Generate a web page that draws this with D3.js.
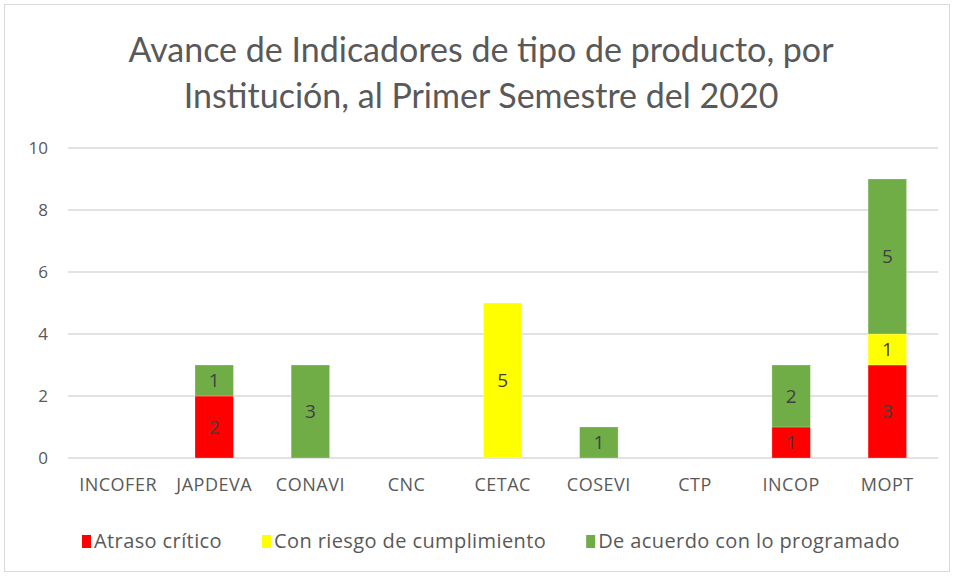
<!DOCTYPE html>
<html>
<head>
<meta charset="utf-8">
<script src="https://cdn.jsdelivr.net/npm/d3@7"></script>
<style>
  body { margin: 0; background: #ffffff; }
  svg { font-family: "Open Sans", Lato, sans-serif; }
</style>
</head>
<body>
<svg id="chart" width="954" height="576"></svg>
<script>
const categories = ["INCOFER", "JAPDEVA", "CONAVI", "CNC", "CETAC", "COSEVI", "CTP", "INCOP", "MOPT"];
const series = ["Atraso crítico", "Con riesgo de cumplimiento", "De acuerdo con lo programado"];
const atraso = [0, 2, 0, 0, 0, 0, 0, 1, 3];
const riesgo = [0, 0, 0, 0, 5, 0, 0, 0, 1];
const acuerdo = [0, 1, 3, 0, 0, 1, 0, 2, 5];
const yTicks = [0, 2, 4, 6, 8, 10];
const titleLines = ["Avance de Indicadores de tipo de producto, por", "Institución, al Primer Semestre del 2020"];

const svg = d3.select("#chart"),
    width = +svg.attr("width"),
    height = +svg.attr("height"),
    margin = { top: 148, right: 16, bottom: 118, left: 70 },
    chartWidth = width - margin.left - margin.right,
    chartHeight = height - margin.top - margin.bottom;

// marco
svg.append("rect")
    .attr("x", 4.5).attr("y", 4.5)
    .attr("width", width - 9).attr("height", height - 9)
    .attr("fill", "#fff")
    .attr("stroke", "#d9d9d9");

svg.append("g")
    .selectAll("text")
    .data(titleLines)
    .join("text")
    .attr("x", width / 2 + 4)
    .attr("y", (d, i) => 62 + i * 46)
    .attr("text-anchor", "middle")
    .style("font-family", "Lato, sans-serif")
    .style("fill", "#595959")
    .style("font-size", "34px")
    .text(d => d);

const chart = svg.append("g")
    .attr("transform", `translate(${margin.left},${margin.top})`);

const x = d3.scaleBand()
    .domain(categories)
    .range([0, chartWidth * 0.997])
    .paddingInner(0.6)
    .paddingOuter(0.3);

const y = d3.scaleLinear()
    .domain([0, 10])
    .range([chartHeight, 0]);

const color = d3.scaleOrdinal()
    .domain(series)
    .range(["#ff0000", "#ffff00", "#70ad47"]);

// grilla
chart.append("g")
    .selectAll("line")
    .data(yTicks)
    .join("line")
    .attr("x1", -2)
    .attr("x2", chartWidth)
    .attr("y1", d => y(d))
    .attr("y2", d => y(d))
    .attr("stroke", "#d9d9d9")
    .attr("stroke-width", 1.3);

const yAxis = chart.append("g")
    .call(d3.axisLeft(y).tickValues(yTicks).tickSize(0).tickPadding(22));
yAxis.select(".domain").remove();
yAxis.selectAll("text")
    .style("font-family", "'Open Sans', sans-serif")
    .style("font-size", "17px")
    .style("fill", "#595959");

const xAxis = chart.append("g")
    .attr("transform", `translate(0,${chartHeight})`)
    .call(d3.axisBottom(x).tickSize(0).tickPadding(20));
xAxis.select(".domain").remove();
xAxis.selectAll("text")
    .style("font-family", "'Open Sans', sans-serif")
    .style("font-size", "18px")
    .style("letter-spacing", "0.5px")
    .style("fill", "#595959");

const table = categories.map((c, i) => ({
    cat: c,
    [series[0]]: atraso[i],
    [series[1]]: riesgo[i],
    [series[2]]: acuerdo[i]
}));

const stacked = d3.stack().keys(series)(table);

const layers = chart.selectAll(".layer")
    .data(stacked)
    .join("g")
    .attr("class", "layer")
    .attr("fill", d => color(d.key));

layers.selectAll("rect")
    .data(d => d.filter(p => p[1] - p[0] > 0))
    .join("rect")
    .attr("x", d => x(d.data.cat))
    .attr("y", d => y(d[1]))
    .attr("width", x.bandwidth())
    .attr("height", d => y(d[0]) - y(d[1]))
    .attr("stroke", "#ffffff")
    .attr("stroke-opacity", 0.3)
    .attr("stroke-width", 0.8);

layers.selectAll("text")
    .data(d => d.filter(p => p[1] - p[0] > 0))
    .join("text")
    .attr("x", d => x(d.data.cat) + x.bandwidth() / 2)
    .attr("y", d => (y(d[0]) + y(d[1])) / 2)
    .attr("dy", "0.36em")
    .attr("text-anchor", "middle")
    .style("fill", "#404040")
    .style("font-size", "19px")
    .text(d => d[1] - d[0]);

// leyenda
const legend = svg.append("g")
    .attr("transform", `translate(0, ${541})`);

const items = legend.selectAll("g")
    .data(series)
    .join("g");

items.append("rect")
    .attr("y", -6)
    .attr("width", 9)
    .attr("height", 13)
    .attr("fill", d => color(d));

items.append("text")
    .attr("x", 12)
    .attr("dy", "0.36em")
    .style("fill", "#595959")
    .style("font-size", "20px")
    .style("letter-spacing", "0.4px")
    .text(d => d);

let pos = 82;
items.each(function() {
    const g = d3.select(this);
    g.attr("transform", `translate(${pos},0)`);
    pos += 12 + g.select("text").node().getComputedTextLength() + 40;
});
</script>
</body>
</html>
